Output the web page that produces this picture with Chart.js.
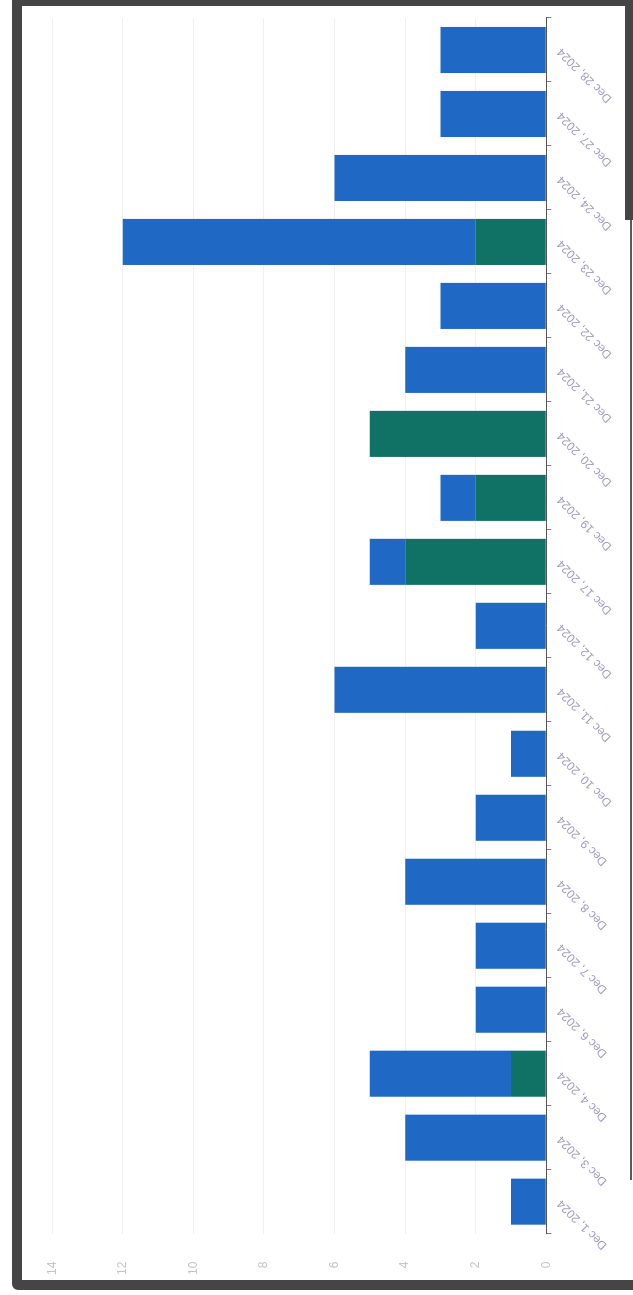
<!DOCTYPE html>
<html>
<head>
<meta charset="utf-8">
<script src="https://cdn.jsdelivr.net/npm/chart.js@4"></script>
<style>
  html, body { margin: 0; padding: 0; background: #fff; }
  body { width: 633px; height: 1295px; overflow: hidden; position: relative; }
  /* dark frame of the photographed page */
  .frame { position: absolute; left: 12px; top: -4px; width: 640px; height: 1294px; z-index: 2;
           border: 10px solid #454545; border-bottom-left-radius: 6px; box-sizing: border-box; }
  .under { position: absolute; left: 0; top: 1290px; width: 633px; height: 10px; background: #fff; z-index: 2; }
  .edge { position: absolute; left: 625px; top: 0; width: 8px; height: 220px; background: #454545; z-index: 2; }
  .edge2 { position: absolute; left: 630px; top: 220px; width: 2px; height: 960px; background: #5a5a5a; z-index: 2; }
  /* chart drawn upright, then turned a quarter counter-clockwise */
  .wrap { position: absolute; left: 17px; top: 8px; width: 1309px; height: 616px;
          transform-origin: 0 0; transform: translate(0, 1309px) rotate(-90deg); }
</style>
</head>
<body>
<div class="frame"></div>
<div class="under"></div>
<div class="edge"></div>
<div class="edge2"></div>
<div class="wrap"><canvas id="c" width="1309" height="616"></canvas></div>
<script>
// ---- data, Dec 1 -> Dec 28
const DAYS = ["Dec 1, 2024", "Dec 3, 2024", "Dec 4, 2024", "Dec 6, 2024", "Dec 7, 2024",
  "Dec 8, 2024", "Dec 9, 2024", "Dec 10, 2024", "Dec 11, 2024", "Dec 12, 2024",
  "Dec 17, 2024", "Dec 19, 2024", "Dec 20, 2024", "Dec 21, 2024", "Dec 22, 2024",
  "Dec 23, 2024", "Dec 24, 2024", "Dec 27, 2024", "Dec 28, 2024"];
const GREEN = [0, 0, 1, 0, 0, 0, 0, 0, 0, 0, 4, 2, 5, 0, 0, 2, 0, 0, 0];
const BLUE  = [1, 4, 4, 2, 2, 4, 2, 1, 6, 2, 1, 1, 0, 4, 3, 10, 6, 3, 3];
const Y_TICKS = [0, 2, 4, 6, 8, 10, 12, 14];

new Chart(document.getElementById("c"), {
  type: "bar",
  data: {
    labels: DAYS,
    datasets: [
      { label: "Green", data: GREEN, backgroundColor: "#0f7264" },
      { label: "Blue", data: BLUE, backgroundColor: "#1f69c5" },
    ],
  },
  options: {
    responsive: false, animation: false,
    layout: { padding: { left: 14, right: 10, top: 15, bottom: 15 } },
    plugins: { legend: { display: false }, tooltip: { enabled: false } },
    scales: {
      x: {
        stacked: true,
        grid: { drawOnChartArea: false, tickLength: 5, color: "#777" },
        border: { color: "#555" },
        ticks: { minRotation: 45, maxRotation: 45, autoSkip: false, color: "#a29bc2", font: { size: 12 } },
      },
      y: {
        stacked: true, min: Y_TICKS[0], max: Y_TICKS[Y_TICKS.length - 1],
        grid: { color: "#f1f1f1", drawTicks: false },
        border: { display: false },
        ticks: { stepSize: 2, padding: 28, color: "#c4c4c4", font: { size: 12 } },
      },
    },
  },
});
</script>
</body>
</html>
